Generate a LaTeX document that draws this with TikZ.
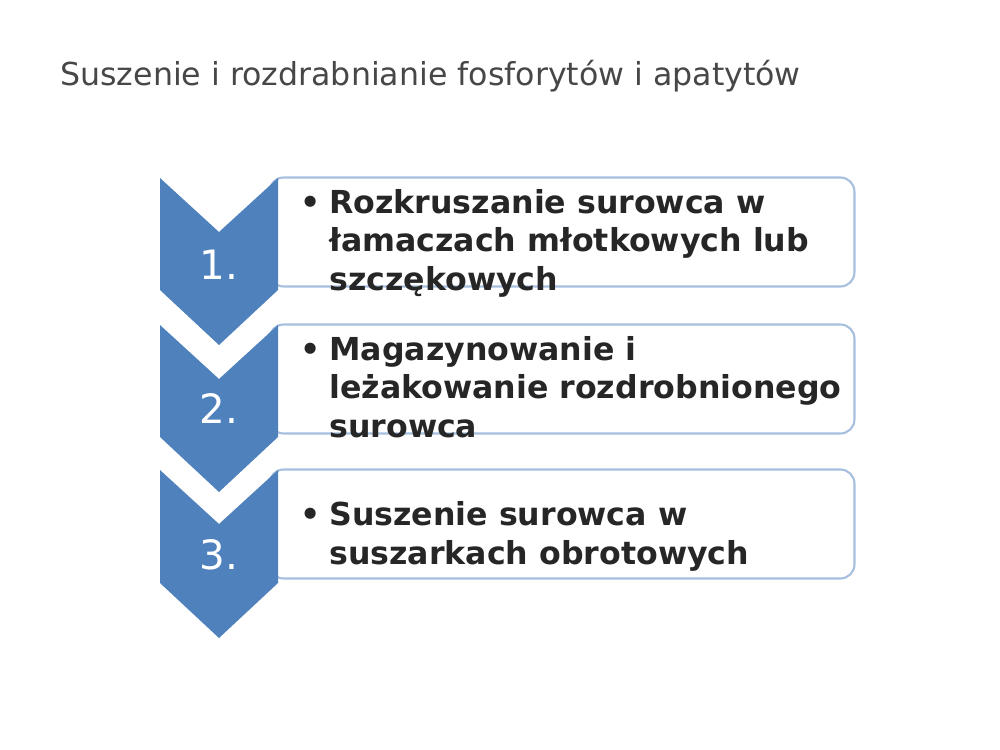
\documentclass[tikz,border=0pt]{standalone}
\usepackage{fontspec}
\setmainfont{DejaVu Sans}
\definecolor{smartblue}{HTML}{4F81BD}
\definecolor{ramka}{HTML}{A7BFDE}
\definecolor{tekst}{HTML}{262626}
\tikzset{
  strzalka/.style={fill=smartblue},
  krok/.style={draw=ramka, line width=1.2pt, fill=white, rounded corners=8pt,
    minimum width=11.7cm, minimum height=2.18cm},
  numer/.style={text=white, font=\fontsize{23}{27}\selectfont},
  opis/.style={anchor=west, text=tekst, font=\bfseries\fontsize{18}{22}\selectfont,
    align=left, inner sep=0pt},
}
\begin{document}
\begin{tikzpicture}[x=0.02cm, y=-0.02cm]
    \useasboundingbox (0,0) rectangle (1000,750);

    % Title
    \node[anchor=west, inner sep=0pt, text=tekst!85, font=\fontsize{18}{21}\selectfont] (tytul) at (60,76)
        {Suszenie i rozdrabnianie fosforytów i apatytów};

    % Boxes
    \node[krok] (krok1) at (562,232) {};
    \node[krok] (krok2) at (562,379) {};
    \node[krok] (krok3) at (562,524) {};

    % Chevrons
    \fill[strzalka] (160,178) -- (219,232) -- (278,178) -- (278,290) -- (219,345) -- (160,290) -- cycle;
    \fill[strzalka] (160,325) -- (219,379) -- (278,325) -- (278,437) -- (219,492) -- (160,437) -- cycle;
    \fill[strzalka] (160,470) -- (219,524) -- (278,470) -- (278,583) -- (219,638) -- (160,583) -- cycle;

    % Numbers
    \node[numer] (nr1) at (219,265) {1.};
    \node[numer] (nr2) at (219,408) {2.};
    \node[numer] (nr3) at (219,555) {3.};

    % Texts
    \node[opis] (opis1) at (300,244) {\begin{tabular}{@{}l@{\hspace{5pt}}l@{}}
        •&Rozkruszanie surowca w\\ &łamaczach młotkowych lub\\ &szczękowych\end{tabular}};
    \node[opis] (opis2) at (300,391) {\begin{tabular}{@{}l@{\hspace{5pt}}l@{}}
        •&Magazynowanie i\\ &leżakowanie rozdrobnionego\\ &surowca\end{tabular}};
    \node[opis] (opis3) at (300,537) {\begin{tabular}{@{}l@{\hspace{5pt}}l@{}}
        •&Suszenie surowca w\\ &suszarkach obrotowych\end{tabular}};
\end{tikzpicture}
\end{document}
